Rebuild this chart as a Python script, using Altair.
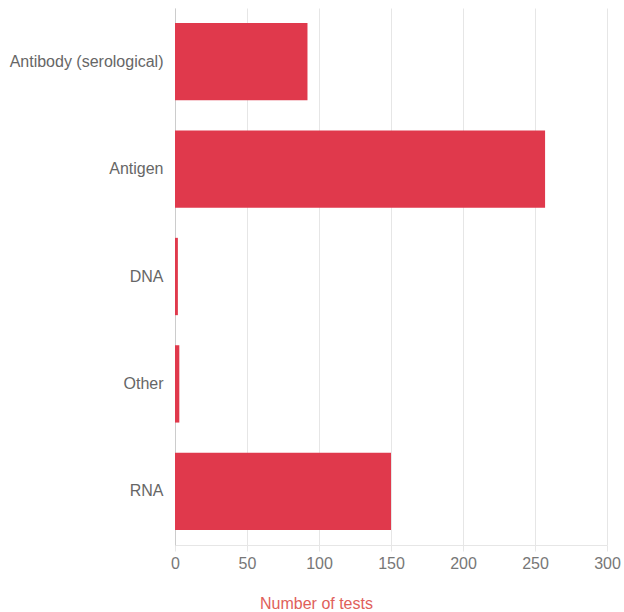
import altair as alt
import pandas as pd

categories = ["Antibody (serological)", "Antigen", "DNA", "Other", "RNA"]
tests = [92, 257, 2, 3, 150]

df = pd.DataFrame({"type": categories, "tests": tests})

chart = alt.Chart(df).mark_bar(color="#e0394c").encode(
    x=alt.X("tests:Q", title="Number of tests",
            scale=alt.Scale(domain=[0, 300], nice=False),
            axis=alt.Axis(values=[0, 50, 100, 150, 200, 250, 300], grid=True,
                          gridColor="#e6e6e6", domainColor="#e6e6e6", tickColor="#e6e6e6",
                          tickSize=6, labelColor="#777777", labelFontSize=16,
                          labelFont="Liberation Sans", labelPadding=4, labelFlush=False,
                          titleColor="#e0605a", titleFontSize=16, titleFont="Liberation Sans",
                          titleFontWeight="normal", titleX=141, titleY=63,
                          titleAlign="center", titleBaseline="alphabetic")),
    y=alt.Y("type:N", title=None, sort=categories,
            scale=alt.Scale(paddingInner=0.28, paddingOuter=0.14),
            axis=alt.Axis(ticks=False, domainColor="#cccccc", labelColor="#666666",
                          labelFontSize=16, labelFont="Liberation Sans", labelPadding=12)),
).properties(
    width=432, height=537,
    autosize=alt.AutoSizeParams(type="none"),
    padding={"left": 175, "top": 8, "right": 17, "bottom": 67},
).configure_view(stroke=None)

chart.save("out.html", embed_options={"renderer": "svg", "actions": False})
